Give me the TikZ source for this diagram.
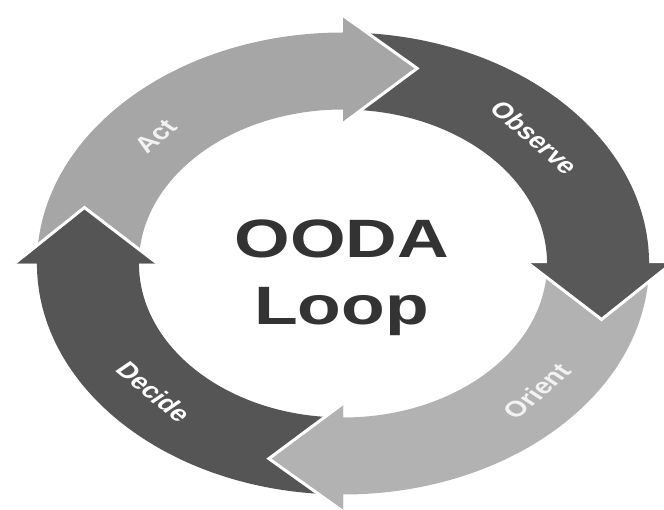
\documentclass[tikz,border=0pt]{standalone}
\usepackage{fontspec}
\setmainfont{Liberation Sans}
\definecolor{actc}{HTML}{A6A6A6}
\definecolor{obsc}{HTML}{585858}
\definecolor{oric}{HTML}{B2B2B2}
\definecolor{decc}{HTML}{555555}
\definecolor{titlec}{HTML}{333333}
\definecolor{lablight}{HTML}{F2F2F2}
\tikzset{
  lab/.style={transform shape, inner sep=0pt, font=\bfseries\fontsize{22}{26}\selectfont},
  bigtitle/.style={transform shape, inner sep=0pt, anchor=base, text=titlec, font=\bfseries\fontsize{54}{60}\selectfont},
  gapline/.style={white, line width=3pt, line join=miter}
}
\begin{document}
\begin{tikzpicture}[x=1pt,y=1pt]
\useasboundingbox (0,0) rectangle (664,509);
\begin{scope}[shift={(343,245.5)}, xscale=1.325]
  % bands with heads
  \foreach \b/\c in {90/actc, 0/obsc, -90/oric, 180/decc}{
    \fill[\c] ({\b+88}:231) arc[start angle=\b+88, end angle=\b, radius=231]
      -- ({\b}:248) -- ({\b-16}:203) -- ({\b}:140) -- ({\b}:154)
      arc[start angle=\b, end angle=\b+88, radius=154] -- cycle;
  }
  % heads on top, with white gap edges
  \foreach \b/\c in {90/actc, 0/obsc, -90/oric, 180/decc}{
    \fill[\c] ({\b}:248) -- ({\b-16}:203) -- ({\b}:140) -- cycle;
    \draw[gapline] ({\b}:248) -- ({\b-16}:203) -- ({\b}:140);
  }
  % labels
  \node[lab, text=lablight, rotate=48] (act) at (138:190) {Act};
  \node[lab, text=white, rotate=-49] (observe) at (41:192) {Observe};
  \node[lab, text=lablight, rotate=49] (orient) at (-41:194) {Orient};
  \node[lab, text=white, rotate=-48] (decide) at (222:192) {Decide};
  % title
  \node[bigtitle] (ooda) at (-1,5.5) {OODA};
  \node[bigtitle] (loop) at (-1,-61.5) {Loop};
\end{scope}
\end{tikzpicture}
\end{document}
